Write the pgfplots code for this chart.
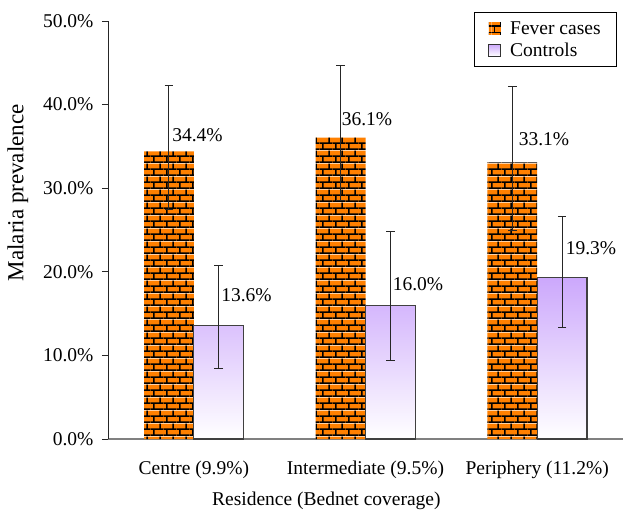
\documentclass[border=0pt]{standalone}
\usepackage{pgfplots}
\pgfplotsset{compat=1.18}
\usepackage{fontspec}
\setmainfont{Liberation Serif}
\usetikzlibrary{patterns.meta}
\definecolor{brickorange}{RGB}{255,128,0}
\definecolor{ctrltop}{RGB}{204,168,252}
\definecolor{legctrl}{RGB}{232,222,255}
\pgfdeclarepattern{
  name=mybricks,
  type=colored,
  bottom left={\pgfpoint{0bp}{0bp}},
  top right={\pgfpoint{12.6bp}{12.6bp}},
  tile size={\pgfpoint{12.6bp}{12.6bp}},
  code={
    \pgfsetfillcolor{brickorange}
    \pgfpathrectangle{\pgfpoint{0bp}{0bp}}{\pgfpoint{12.6bp}{12.6bp}}
    \pgfusepath{fill}
    \pgfsetstrokecolor{black}
    \pgfsetlinewidth{1.6bp}
    \pgfpathmoveto{\pgfpoint{0bp}{0.8bp}}\pgfpathlineto{\pgfpoint{12.6bp}{0.8bp}}
    \pgfpathmoveto{\pgfpoint{0bp}{7.1bp}}\pgfpathlineto{\pgfpoint{12.6bp}{7.1bp}}
    \pgfpathmoveto{\pgfpoint{3bp}{0.8bp}}\pgfpathlineto{\pgfpoint{3bp}{7.1bp}}
    \pgfpathmoveto{\pgfpoint{9.3bp}{7.1bp}}\pgfpathlineto{\pgfpoint{9.3bp}{12.6bp}}
    \pgfpathmoveto{\pgfpoint{9.3bp}{0bp}}\pgfpathlineto{\pgfpoint{9.3bp}{0.8bp}}
    \pgfusepath{stroke}
  }
}
\newcommand\fs{\fontsize{19.5bp}{22bp}\selectfont}
\begin{document}
\begin{tikzpicture}
\begin{axis}[
  name=ax,
  scale only axis, width=515bp, height=418bp,
  xmin=-0.5, xmax=2.5, ymin=0, ymax=50,
  axis x line*=bottom, axis y line*=left,
  x axis line style={-, draw=gray, line width=1.6bp},
  y axis line style={-, draw=black!85, line width=0.9bp},
  xtick=\empty,
  minor xtick={0.5,1.5,2.5},
  extra x ticks={0,1,2},
  extra x tick labels={Centre (9.9\%),Intermediate (9.5\%),Periphery (11.2\%)},
  extra x tick style={major tick length=0pt},
  ytick={0,10,20,30,40,50},
  /pgf/number format/assume math mode=true,
  yticklabel={\pgfmathprintnumber[fixed,fixed zerofill,precision=1]{\tick}\%},
  tick align=outside, major tick length=6bp, minor tick length=5bp,
  tick style={black!85, line width=0.8bp},
  every minor tick/.append style={yshift=5bp, gray},
  yticklabel style={font=\fs, xshift=-5bp},
  xticklabel style={font=\fs, yshift=-18bp},
  ylabel={Malaria prevalence},
  ylabel style={at={(axis description cs:-0.175,0.589)}, anchor=center, font=\fontsize{23bp}{26bp}\selectfont},
  xlabel={Residence (Bednet coverage)},
  xlabel style={at={(axis description cs:0.424,0)}, anchor=north, yshift=-53bp, inner sep=0pt, font=\fs},
  legend style={at={(axis description cs:1,1)}, anchor=north east, xshift=-6bp, yshift=9bp,
    draw=black, line width=0.8bp, font=\fs, nodes={font=\fs},
    inner xsep=14bp, inner ysep=7bp, row sep=3bp, column sep=7bp},
  legend cell align=left,
]
\addplot[ybar, bar width=0.29, bar shift=-0.145, pattern=mybricks, draw=none,
  legend image code/.code={\fill[pattern=mybricks] (0bp,-6bp) rectangle (12bp,6bp);}]
  coordinates {(0,34.4) (1,36.1) (2,33.1)};
\addlegendentry{Fever cases}
\addplot[ybar, bar width=0.29, bar shift=0.145, draw=black!75, line width=1.2bp,
  top color=ctrltop, bottom color=white,
  legend image code/.code={\draw[black!80, line width=0.8bp, fill=legctrl] (0bp,-6bp) rectangle (12bp,6bp);}]
  coordinates {(0,13.6) (1,16.0) (2,19.3)};
\addlegendentry{Controls}
% error bars
\addplot[forget plot, draw=none, mark=none,
  error bars/.cd, y dir=both, y explicit,
  error bar style={draw=black!85, line width=0.9bp},
  error mark options={rotate=90, mark size=4.3bp, line width=0.9bp, draw=black!85}]
  coordinates {(-0.145,34.4) += (0,7.9) -= (0,7.0) (0.855,36.1) += (0,8.6) -= (0,7.6) (1.855,33.1) += (0,9.1) -= (0,8.1)};
\addplot[forget plot, draw=none, mark=none,
  error bars/.cd, y dir=both, y explicit,
  error bar style={draw=black!85, line width=0.9bp},
  error mark options={rotate=90, mark size=4.3bp, line width=0.9bp, draw=black!85}]
  coordinates {(0.145,13.6) += (0,7.1) -= (0,5.2) (1.145,16.0) += (0,8.8) -= (0,6.55) (2.145,19.3) += (0,7.3) -= (0,5.9)};
% value labels
\addplot[forget plot, draw=none, mark=none, nodes near coords, point meta=explicit symbolic,
  every node near coord/.append style={font=\fs, inner sep=0pt, black, anchor=south}]
  coordinates {(0.0213,35.53)[34.4\%] (0.3068,16.39)[13.6\%] (1.0087,37.44)[36.1\%]
               (1.3058,17.70)[16.0\%] (2.0398,35.05)[33.1\%] (2.3136,22.01)[19.3\%]};
\end{axis}
\pgfresetboundingbox
\path ([xshift=-108bp,yshift=-73bp]ax.south west) rectangle ([xshift=1bp,yshift=21bp]ax.north east);
\end{tikzpicture}
\end{document}
